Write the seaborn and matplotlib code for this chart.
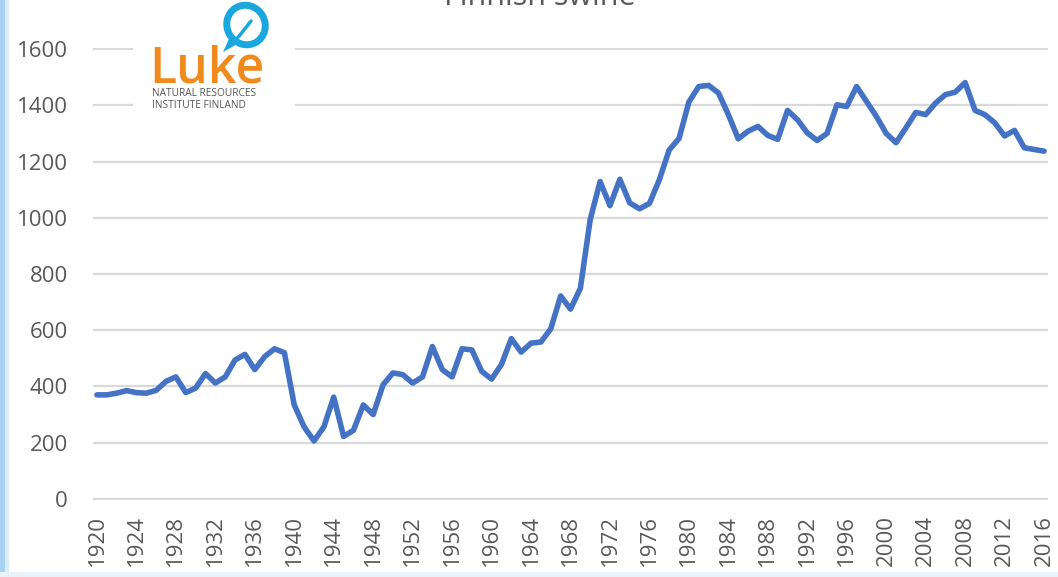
import matplotlib
matplotlib.use("Agg")
import matplotlib.pyplot as plt
import seaborn as sns
import pandas as pd
from matplotlib.patches import Ellipse, Rectangle, Polygon

# ---------------- data ----------------
years = list(range(1920, 2017))
values = [
    370, 370, 376, 385, 378, 376, 386, 418, 434, 378,   # 1920-1929
    394, 446, 412, 434, 494, 514, 460, 506, 534, 520,   # 1930-1939
    334, 256, 206, 256, 362, 222, 244, 334, 300, 406,   # 1940-1949
    448, 442, 412, 434, 542, 460, 434, 534, 530, 454,   # 1950-1959
    426, 478, 570, 522, 554, 558, 605, 722, 675, 749,   # 1960-1969
    994, 1129, 1043, 1137, 1053, 1032, 1051, 1135, 1241, 1282,  # 1970-1979
    1412, 1467, 1471, 1444, 1367, 1281, 1308, 1325, 1293, 1279,  # 1980-1989
    1382, 1349, 1302, 1275, 1300, 1402, 1396, 1467, 1414, 1361,  # 1990-1999
    1300, 1267, 1320, 1375, 1367, 1408, 1438, 1447, 1481, 1382,  # 2000-2009
    1367, 1338, 1291, 1311, 1249, 1243, 1237,                    # 2010-2016
]
x_ticks = list(range(1920, 2017, 4))
y_ticks = list(range(0, 1601, 200))
title_text = "Finnish swine"
logo_word = "Luke"
logo_lines = ["NATURAL RESOURCES", "INSTITUTE FINLAND"]

# ---------------- style ----------------
sns.set_theme(style="white")
plt.rcParams['font.family'] = ['Open Sans', 'DejaVu Sans']

W, H = 1058, 577
fig = plt.figure(figsize=(W / 100, H / 100), dpi=100)
fig.patch.set_facecolor("white")

ax = fig.add_axes([93 / W, 1 - 500 / H, (1048 - 93) / W, 452 / H])
df = pd.DataFrame({"year": years, "value": values})
sns.lineplot(data=df, x="year", y="value", ax=ax, color="#4472C4",
             linewidth=4.0, solid_capstyle="round", solid_joinstyle="round")

ax.set_xlim(1919.6, 2016.4)
ax.set_ylim(-4, 1604)
ax.set_yticks(y_ticks)
ax.set_yticklabels([str(t) for t in y_ticks])
ax.set_xticks(x_ticks)
ax.set_xticklabels([str(t) for t in x_ticks], rotation=90)
ax.grid(axis="y", color="#d9d9d9", linewidth=1.6)
ax.grid(axis="x", visible=False)
ax.set_axisbelow(True)
for s in ax.spines.values():
    s.set_visible(False)
ax.tick_params(axis="both", length=0, colors="#595959", labelsize=16)
ax.tick_params(axis="y", pad=18)
ax.tick_params(axis="x", pad=11)
ax.set_xlabel("")
ax.set_ylabel("")

# ---------------- title (cut off at top, as in reference) ----------------
fig.text(540 / W, 1 - 5 / H, title_text, ha="center", va="baseline",
         fontsize=22, color="#595959")

# ---------------- logo ----------------
lax = fig.add_axes([133 / W, 1 - 125 / H, 162 / W, 125 / H], zorder=5)
lax.set_xlim(133, 295)
lax.set_ylim(125, 0)
lax.set_facecolor("white")
lax.axis("off")
lax.add_patch(Rectangle((133, 0), 162, 125, facecolor="white", edgecolor="none"))
lax.add_patch(Ellipse((246, 25), 38, 40, angle=-30, facecolor="none",
                      edgecolor="#1AA7DE", linewidth=5))
lax.add_patch(Polygon([[230, 37], [223, 52], [239, 43]], closed=True,
                      facecolor="#1AA7DE", edgecolor="none"))
lax.plot([230, 240, 251], [46, 35, 21], color="#1AA7DE", linewidth=2.5,
         solid_capstyle="round")
lax.text(149, 83, logo_word, fontsize=36, fontweight="semibold",
         color="#F08A1C", ha="left", va="baseline")
lax.text(152, 88, "\n".join(logo_lines), fontsize=7.3, color="#555555",
         ha="left", va="top", linespacing=1.15)

# ---------------- screenshot frame edges ----------------
fig.patches.append(Rectangle((0, 0), 5 / W, 1, transform=fig.transFigure,
                             facecolor="#A8D2F1", edgecolor="none", zorder=6))
fig.patches.append(Rectangle((5 / W, 0), 4 / W, 1, transform=fig.transFigure,
                             facecolor="#DCEDFA", edgecolor="none", zorder=6))
fig.patches.append(Rectangle((0, 0), 1, 5 / H, transform=fig.transFigure,
                             facecolor="#EAF2F9", edgecolor="none", zorder=6))

fig.savefig("out.png", dpi=100)
